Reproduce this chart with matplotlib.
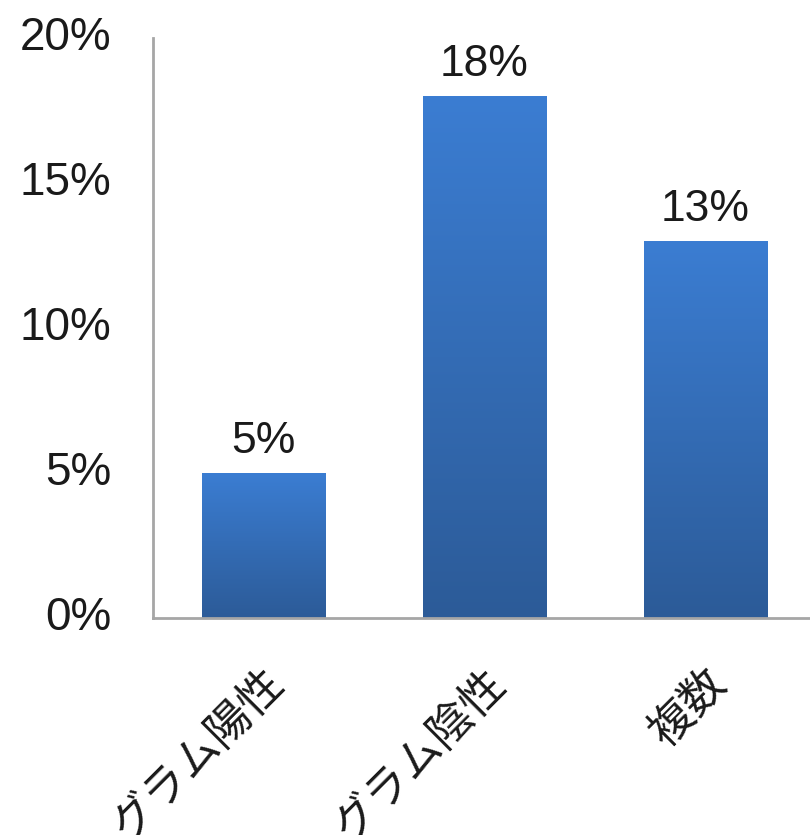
import numpy as np
import matplotlib
matplotlib.use('Agg')
import matplotlib.pyplot as plt
from matplotlib.colors import LinearSegmentedColormap

plt.rcParams['font.family'] = ['Liberation Sans', 'Noto Sans CJK JP']

categories = ['グラム陽性', 'グラム陰性', '複数']
values = [0.05, 0.18, 0.13]
value_labels = ['5%', '18%', '13%']
yticks = [0, 0.05, 0.10, 0.15, 0.20]
ytick_labels = ['0%', '5%', '10%', '15%', '20%']

fig = plt.figure(figsize=(8.1, 8.35), dpi=100)
ax = fig.add_axes([153/810, 1 - 618/835, 663/810, (618 - 38)/835])

x = np.arange(len(categories))
bars = ax.bar(x, values, width=0.56, color='none', edgecolor='none')

# vertical gradient inside each bar, lighter at top
cmap = LinearSegmentedColormap.from_list('blue', ['#2c5b98', '#3b7dd2'])
grad = np.linspace(0, 1, 256).reshape(-1, 1)
for b in bars:
    x0, y0 = b.get_x(), b.get_y()
    w, h = b.get_width(), b.get_height()
    ax.imshow(grad, cmap=cmap, origin='lower', aspect='auto',
              extent=(x0, x0 + w, y0, y0 + h), zorder=2)

for xi, v, lab in zip(x, values, value_labels):
    ax.annotate(lab, (xi, v), xytext=(0, 8), textcoords='offset points',
                ha='center', va='bottom', fontsize=32, color='#1a1a1a')

ax.set_xlim(-0.5, len(categories) - 0.5)
ax.set_ylim(0, 0.2)
ax.set_yticks(yticks)
ax.set_yticklabels(ytick_labels, fontsize=33, va='center')
ax.set_xticks(x)
ax.set_xticklabels(categories, fontsize=32, rotation=45, ha='right',
                   va='top', rotation_mode='anchor')
ax.tick_params(axis='both', length=0, colors='#1a1a1a')
ax.tick_params(axis='y', pad=30)
ax.tick_params(axis='x', pad=32)

for s in ['top', 'right']:
    ax.spines[s].set_visible(False)
for s in ['left', 'bottom']:
    ax.spines[s].set_color('#a6a6a6')
    ax.spines[s].set_linewidth(2)

plt.savefig('out.png', dpi=100)
